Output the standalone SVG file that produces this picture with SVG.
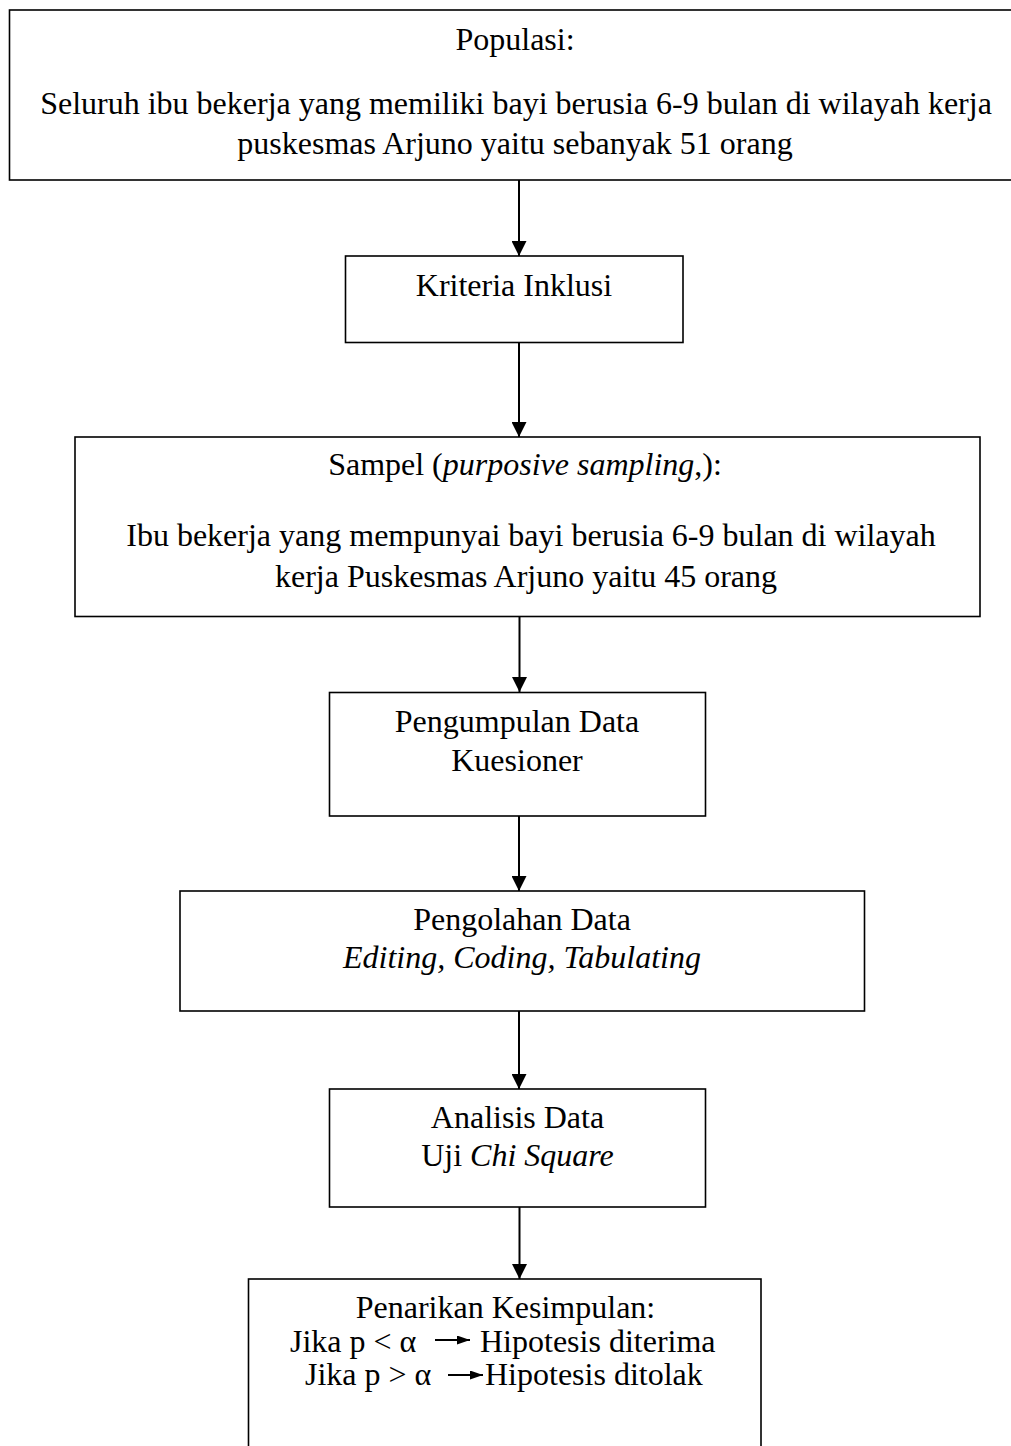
<svg xmlns="http://www.w3.org/2000/svg" width="1011" height="1446" viewBox="0 0 1011 1446">
<defs>
<style>
.box{fill:#fff;stroke:#000;stroke-width:1.6}
.t{font-family:"Liberation Serif","Times New Roman",serif;font-size:32px;fill:#000;text-anchor:middle}
.ts{font-family:"Liberation Serif","Times New Roman",serif;font-size:32px;fill:#000;text-anchor:start}
.i{font-style:italic}
.conn{stroke:#000;stroke-width:2;fill:none}
</style>
<marker id="ah" viewBox="0 0 15 15" refX="15" refY="7.5" markerWidth="15" markerHeight="15" markerUnits="userSpaceOnUse" orient="auto">
<path d="M0,0 L15,7.5 L0,15 Z" fill="#000"/>
</marker>
<marker id="sh" viewBox="0 0 13 9" refX="13" refY="4.5" markerWidth="13" markerHeight="9" markerUnits="userSpaceOnUse" orient="auto">
<path d="M0,0 L13,4.5 L0,9 Z" fill="#000"/>
</marker>
</defs>
<rect width="1011" height="1446" fill="#fff"/>

<g id="connectors">
<line class="conn" x1="519" y1="180" x2="519" y2="256" marker-end="url(#ah)"/>
<line class="conn" x1="519" y1="343" x2="519" y2="437" marker-end="url(#ah)"/>
<line class="conn" x1="519.5" y1="617" x2="519.5" y2="692" marker-end="url(#ah)"/>
<line class="conn" x1="519" y1="816" x2="519" y2="891" marker-end="url(#ah)"/>
<line class="conn" x1="519" y1="1011" x2="519" y2="1089" marker-end="url(#ah)"/>
<line class="conn" x1="519.5" y1="1207" x2="519.5" y2="1279" marker-end="url(#ah)"/>
</g>

<g id="populasi">
<rect class="box" x="9.5" y="10" width="1010" height="170"/>
<text class="t" x="515" y="50">Populasi:</text>
<text class="t" x="516" y="114">Seluruh ibu bekerja yang memiliki bayi berusia 6-9 bulan di wilayah kerja</text>
<text class="t" x="515" y="154">puskesmas Arjuno yaitu sebanyak 51 orang</text>
</g>

<g id="kriteria">
<rect class="box" x="345.5" y="256" width="337.5" height="86.5"/>
<text class="t" x="514" y="296">Kriteria Inklusi</text>
</g>

<g id="sampel">
<rect class="box" x="75" y="437" width="905" height="179.5"/>
<text class="t" x="525" y="475">Sampel (<tspan class="i">purposive sampling</tspan>,):</text>
<text class="t" x="531" y="546">Ibu bekerja yang mempunyai bayi berusia 6-9 bulan di wilayah</text>
<text class="t" x="526" y="587">kerja Puskesmas Arjuno yaitu 45 orang</text>
</g>

<g id="pengumpulan">
<rect class="box" x="329.5" y="692.5" width="376" height="123.5"/>
<text class="t" x="517" y="732">Pengumpulan Data</text>
<text class="t" x="517" y="771">Kuesioner</text>
</g>

<g id="pengolahan">
<rect class="box" x="180" y="891" width="684.5" height="120"/>
<text class="t" x="522" y="930">Pengolahan Data</text>
<text class="t i" x="522" y="968">Editing, Coding, Tabulating</text>
</g>

<g id="analisis">
<rect class="box" x="329.5" y="1089" width="376" height="118"/>
<text class="t" x="517.5" y="1128">Analisis Data</text>
<text class="t" x="517.5" y="1166">Uji <tspan class="i">Chi Square</tspan></text>
</g>

<g id="penarikan">
<rect class="box" x="248.5" y="1279" width="512.5" height="200"/>
<text class="t" x="505.5" y="1318">Penarikan Kesimpulan:</text>
<text class="ts" x="290" y="1352">Jika p &lt; α</text>
<line class="conn" x1="435" y1="1340" x2="470" y2="1340" marker-end="url(#sh)"/>
<text class="ts" x="480" y="1352">Hipotesis diterima</text>
<text class="ts" x="305" y="1385">Jika p &gt; α</text>
<line class="conn" x1="448" y1="1375" x2="483" y2="1375" marker-end="url(#sh)"/>
<text class="ts" x="485" y="1385">Hipotesis ditolak</text>
</g>
</svg>
